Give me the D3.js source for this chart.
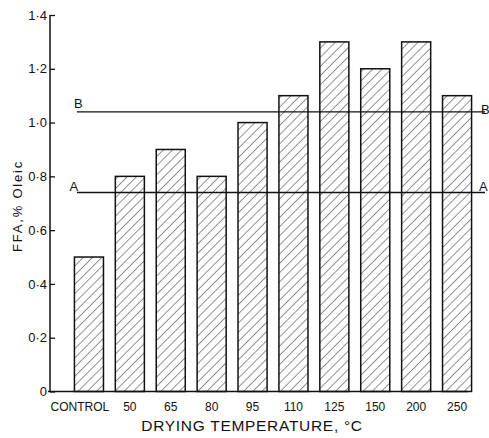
<!DOCTYPE html>
<html>
<head>
<meta charset="utf-8">
<script src="https://cdn.jsdelivr.net/npm/d3@7"></script>
<style>
  body { margin: 0; background: #fff; }
  text { font-family: "Liberation Sans", Arial, sans-serif; fill: #111; }
</style>
</head>
<body>
<div id="chart"></div>
<script>
var categories = ["CONTROL", "50", "65", "80", "95", "110", "125", "150", "200", "250"];
var ffaValues = [0.5, 0.8, 0.9, 0.8, 1.0, 1.1, 1.3, 1.2, 1.3, 1.1];
var yTicks = [0, 0.2, 0.4, 0.6, 0.8, 1.0, 1.2, 1.4];
var refNames = ["A", "B"];
var refValues = [0.74, 1.04];

var width = 489,
    height = 438;

var svg = d3.select("#chart").append("svg")
    .attr("width", width)
    .attr("height", height);

var x = d3.scaleBand()
    .domain(categories)
    .range([68.5, 477.5])
    .paddingInner(0.29)
    .paddingOuter(0.145);

var y = d3.scaleLinear()
    .domain([0, 1.4])
    .range([391.5, 15]);

// hatch pattern
svg.append("defs").append("pattern")
    .attr("id", "hatch")
    .attr("patternUnits", "userSpaceOnUse")
    .attr("width", 6.5)
    .attr("height", 6.5)
    .attr("patternTransform", "rotate(45)")
  .append("line")
    .attr("x1", 0).attr("y1", 0)
    .attr("x2", 0).attr("y2", 6.5)
    .attr("stroke", "#222")
    .attr("stroke-width", 1);

// bars
svg.append("g")
  .selectAll("rect")
  .data(ffaValues)
  .enter().append("rect")
    .attr("x", function(d, i) { return x(categories[i]); })
    .attr("y", function(d) { return y(d); })
    .attr("width", x.bandwidth())
    .attr("height", function(d) { return y(0) - y(d); })
    .attr("fill", "url(#hatch)")
    .attr("stroke", "#111")
    .attr("stroke-width", 1.5);

// y axis
var yAxis = d3.axisRight(y)
    .tickValues(yTicks)
    .tickSize(5)
    .tickFormat(function(d) { return d === 0 ? "0" : d3.format(".1f")(d).replace(".", "\u00b7"); });

var gy = svg.append("g")
    .attr("transform", "translate(50,0)")
    .call(yAxis);
gy.select(".domain").attr("stroke", "#111").attr("stroke-width", 1.5)
    .attr("d", "M0," + y(1.4) + "V" + y(0));
gy.selectAll(".tick line").attr("stroke", "#111").attr("stroke-width", 1.3);
gy.selectAll(".tick text")
    .attr("x", -3)
    .attr("text-anchor", "end")
    .attr("font-size", "13px")
    .attr("font-family", "Liberation Sans, Arial, sans-serif")
    .attr("fill", "#111");

// baseline
svg.append("line")
    .attr("x1", 48).attr("x2", x.range()[1] - 9.5)
    .attr("y1", y(0)).attr("y2", y(0))
    .attr("stroke", "#111")
    .attr("stroke-width", 1.5);

// x tick labels
svg.append("g")
  .selectAll("text")
  .data(categories)
  .enter().append("text")
    .attr("x", function(d, i) { return x(d) + x.bandwidth() / 2 + (i === 0 ? -9 : 0); })
    .attr("y", 410.5)
    .attr("text-anchor", "middle")
    .attr("font-size", "12px")
    .text(function(d) { return d; });

// reference lines A and B
var refs = svg.append("g");
refs.selectAll("line")
  .data(refValues)
  .enter().append("line")
    .attr("x1", 77).attr("x2", 485)
    .attr("y1", function(d) { return y(d); })
    .attr("y2", function(d) { return y(d); })
    .attr("stroke", "#111")
    .attr("stroke-width", 1.3);

refs.selectAll("text.left")
  .data(refValues)
  .enter().append("text")
    .attr("class", "left")
    .attr("x", function(d, i) { return i === 0 ? 69.5 : 74; })
    .attr("y", function(d, i) { return y(d) - (i === 0 ? 1 : 4); })
    .attr("font-size", "13px")
    .text(function(d, i) { return refNames[i]; });

refs.selectAll("text.right")
  .data(refValues)
  .enter().append("text")
    .attr("class", "right")
    .attr("x", function(d, i) { return i === 0 ? 479 : 481; })
    .attr("y", function(d, i) { return y(d) - (i === 0 ? 1 : -2); })
    .attr("font-size", "13px")
    .text(function(d, i) { return refNames[i]; });

// axis titles
svg.append("text")
    .attr("x", 252)
    .attr("y", 431)
    .attr("text-anchor", "middle")
    .attr("font-size", "15.5px")
    .attr("letter-spacing", "0.7px")
    .text("DRYING TEMPERATURE, \u00b0C");

svg.append("text")
    .attr("transform", "translate(22,206) rotate(-90)")
    .attr("text-anchor", "middle")
    .attr("font-size", "13px")
    .attr("letter-spacing", "1.8px")
    .text("FFA,% Oleic");
</script>
</body>
</html>
